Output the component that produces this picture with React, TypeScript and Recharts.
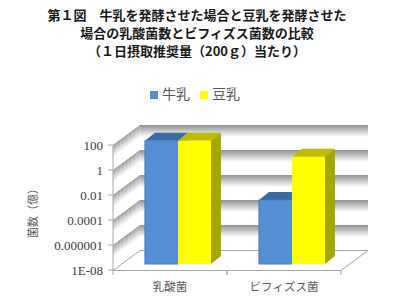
import React from 'react';
import { BarChart, Bar, XAxis, YAxis, CartesianGrid, Legend, Label } from 'recharts';

const categories = ['乳酸菌', 'ビフィズス菌'];
const seriesNames = ['牛乳', '豆乳'];
const milkValues = [73, 0.0013];
const soyValues = [73, 3.8];
const yTicks = [1e-8, 1e-6, 1e-4, 0.01, 1, 100];
const yTickLabels = ['1E-08', '0.000001', '0.0001', '0.01', '1', '100'];
const titleLines = [
  '第１図　牛乳を発酵させた場合と豆乳を発酵させた',
  '場合の乳酸菌数とビフィズス菌数の比較',
  '（１日摂取推奨量（200ｇ）当たり）',
];
const yAxisTitle = '菌数（億）';

const data = categories.map((c, i) => ({ name: c, milk: milkValues[i], soy: soyValues[i] }));

const DX = 27;
const DY = -20;
const BAND = 12;
const SHIFT_X = 8;
const SHIFT_Y = -6;
const DEPTH_X = 10;
const DEPTH_Y = -8;

const JP = '"Noto Sans CJK JP", "Noto Sans", sans-serif';

const renderGridLine = (props: any) => {
  const { x1, x2, y1, key, y, height } = props;
  const isFloor = Math.abs(y1 - (y + height)) < 0.5;
  const yy = Math.round(y1) + 0.5;
  if (isFloor) {
    return (
      <g key={key}>
        <polygon
          points={`${x1},${yy} ${x2},${yy} ${x2 + DX},${yy + DY} ${x1 + DX},${yy + DY}`}
          fill="#ffffff"
          stroke="#a6a6a6"
          strokeWidth={1}
        />
      </g>
    );
  }
  const lines: any[] = [];
  for (let k = BAND - 1; k >= 0; k--) {
    const v = Math.round(150 + (k / (BAND - 1)) * 100);
    const col = `rgb(${v},${v},${v})`;
    lines.push(<line key={`l${k}`} x1={x1} y1={yy + k} x2={x1 + DX} y2={yy + DY + k} stroke={col} strokeWidth={1} />);
    lines.push(<line key={`b${k}`} x1={x1 + DX} y1={yy + DY + k} x2={x2 + DX} y2={yy + DY + k} stroke={col} strokeWidth={1} />);
  }
  return <g key={key}>{lines}</g>;
};

const make3DBar = (front: string, top: string, side: string, stroke?: string) => (props: any) => {
  const { x, y, width, height } = props;
  if (x == null || y == null || !width || height == null) return <g />;
  const X = x + SHIFT_X;
  const Y = y + SHIFT_Y;
  return (
    <g>
      <polygon
        points={`${X},${Y} ${X + DEPTH_X},${Y + DEPTH_Y} ${X + width + DEPTH_X},${Y + DEPTH_Y} ${X + width},${Y}`}
        fill={top}
      />
      <polygon
        points={`${X + width},${Y} ${X + width + DEPTH_X},${Y + DEPTH_Y} ${X + width + DEPTH_X},${Y + height + DEPTH_Y} ${X + width},${Y + height}`}
        fill={side}
      />
      <rect x={X} y={Y} width={width} height={height} fill={front} stroke={stroke || 'none'} strokeWidth={1} />
    </g>
  );
};

const XTick = (props: any) => {
  const { x, y, payload, width, visibleTicksCount } = props;
  const half = payload && payload.offset ? payload.offset : width / (visibleTicksCount || 1) / 2;
  return (
    <g>
      <line x1={x - half} y1={y} x2={x - half} y2={y + 5} stroke="#a6a6a6" />
      <line x1={x + half} y1={y} x2={x + half} y2={y + 5} stroke="#a6a6a6" />
      <text x={x} y={y + 21} textAnchor="middle" fill="#595959" fontSize={11.5} fontFamily={JP}>
        {payload.value}
      </text>
    </g>
  );
};

const fmtY = (v: number) => {
  const i = yTicks.findIndex((t) => Math.abs(t - v) <= t * 1e-6);
  return i >= 0 ? yTickLabels[i] : String(v);
};

export default function App() {
  return (
    <div style={{ position: 'absolute', left: 0, top: 0, width: 400, height: 307, background: '#ffffff', fontFamily: JP }}>
      <BarChart
        width={400}
        height={307}
        data={data}
        margin={{ top: 145, right: 59, bottom: 7, left: 23 }}
        barCategoryGap="21%"
        barGap={0}
      >
        <CartesianGrid vertical={false} horizontal={renderGridLine} />
        <XAxis
          dataKey="name"
          height={30}
          axisLine={false}
          tickLine={false}
          tickSize={0}
          tickMargin={0}
          tick={<XTick />}
          interval={0}
        />
        <YAxis
          scale="log"
          type="number"
          domain={[1e-8, 100]}
          ticks={yTicks}
          interval={0}
          width={90}
          tickFormatter={fmtY}
          tickSize={5}
          tickMargin={5}
          axisLine={{ stroke: '#a6a6a6' }}
          tickLine={{ stroke: '#a6a6a6' }}
          tick={{ fill: '#404040', fontSize: 13, fontFamily: '"Liberation Serif", "DejaVu Serif", serif' }}
        >
          <Label
            content={(p: any) => {
              const vb = p.viewBox || { x: 23, y: 145, width: 90, height: 125 };
              const cx = vb.x + 9;
              const cy = vb.y + vb.height / 2 + 3;
              return (
                <text
                  x={cx}
                  y={cy}
                  transform={`rotate(-90 ${cx} ${cy})`}
                  textAnchor="middle"
                  dominantBaseline="central"
                  fill="#595959"
                  fontSize={11}
                  fontFamily={JP}
                >
                  {yAxisTitle}
                </text>
              );
            }}
          />
        </YAxis>
        <Legend
          verticalAlign="middle"
          align="center"
          iconType="square"
          iconSize={8}
          wrapperStyle={{ top: 83, left: 0, width: 400, lineHeight: '20px', fontSize: 14, fontFamily: JP }}
          formatter={(value: any) => <span style={{ color: '#595959' }}>{value}</span>}
        />
        <Bar
          dataKey="milk"
          name={seriesNames[0]}
          fill="#558ed5"
          isAnimationActive={false}
          shape={make3DBar('#558ed5', '#3c6aa3', '#3f6fae', '#4a7ebb')}
        />
        <Bar
          dataKey="soy"
          name={seriesNames[1]}
          fill="#ffff00"
          isAnimationActive={false}
          shape={make3DBar('#ffff00', '#bdbd00', '#a6a600')}
        />
      </BarChart>
      <div
        style={{
          position: 'absolute',
          left: 0,
          top: 6,
          width: 394,
          textAlign: 'center',
          fontSize: 13,
          lineHeight: '18px',
          fontWeight: 700,
          color: '#1a1a1a',
          fontFamily: JP,
        }}
      >
        {titleLines.map((t, i) => (
          <div key={i}>{t}</div>
        ))}
      </div>
    </div>
  );
}
